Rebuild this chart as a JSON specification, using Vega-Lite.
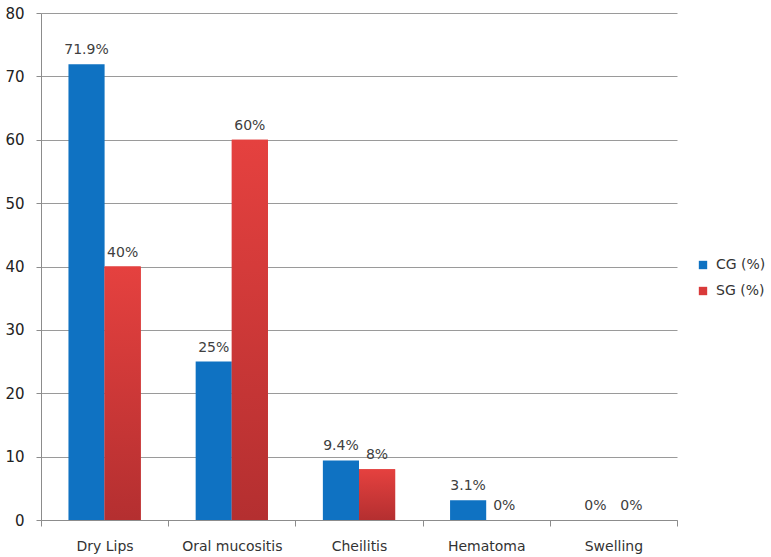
{
  "$schema": "https://vega.github.io/schema/vega-lite/v6.json",
  "width": 636,
  "height": 507,
  "autosize": {"type": "none"},
  "padding": {"left": 41, "top": 13, "right": 94, "bottom": 37},
  "background": "white",
  "config": {"view": {"stroke": null}, "font": "DejaVu Sans"},
  "data": {"values": [
    {"Category": "Dry Lips", "Group": "CG (%)", "Value": 71.9, "label": "71.9%"},
    {"Category": "Dry Lips", "Group": "SG (%)", "Value": 40, "label": "40%"},
    {"Category": "Oral mucositis", "Group": "CG (%)", "Value": 25, "label": "25%"},
    {"Category": "Oral mucositis", "Group": "SG (%)", "Value": 60, "label": "60%"},
    {"Category": "Cheilitis", "Group": "CG (%)", "Value": 9.4, "label": "9.4%"},
    {"Category": "Cheilitis", "Group": "SG (%)", "Value": 8, "label": "8%"},
    {"Category": "Hematoma", "Group": "CG (%)", "Value": 3.1, "label": "3.1%"},
    {"Category": "Hematoma", "Group": "SG (%)", "Value": 0, "label": "0%"},
    {"Category": "Swelling", "Group": "CG (%)", "Value": 0, "label": "0%"},
    {"Category": "Swelling", "Group": "SG (%)", "Value": 0, "label": "0%"}
  ]},
  "encoding": {
    "x": {
      "field": "Category", "type": "nominal", "sort": null,
      "scale": {"paddingInner": 0, "paddingOuter": 0},
      "axis": {
        "title": null, "labelAngle": 0, "labelFontSize": 14, "labelColor": "#333333",
        "labelPadding": 13, "labelBaseline": "top", "tickBand": "extent", "tickSize": 6, "tickColor": "#8c8c8c",
        "domainColor": "#8c8c8c", "grid": false
      }
    },
    "xOffset": {
      "field": "Group", "type": "nominal",
      "scale": {"paddingInner": 0, "paddingOuter": 0.76}
    },
    "y": {
      "field": "Value", "type": "quantitative",
      "scale": {"domain": [0, 80], "nice": false},
      "axis": {
        "title": null, "values": [0, 10, 20, 30, 40, 50, 60, 70, 80],
        "labelFontSize": 15, "labelColor": "#222222", "labelPadding": 12,
        "tickSize": 5, "tickColor": "#8c8c8c", "domainColor": "#8c8c8c",
        "gridColor": "#9a9a9a", "gridWidth": 1
      }
    }
  },
  "layer": [
    {
      "mark": {"type": "bar"},
      "encoding": {
        "color": {
          "field": "Group", "type": "nominal",
          "scale": {"domain": ["CG (%)", "SG (%)"], "range": ["#0F72C2", "#D93A3A"]},
          "legend": {
            "title": null, "orient": "none", "legendX": 655, "legendY": 245,
            "symbolType": "square", "symbolSize": 70, "labelFontSize": 14,
            "labelColor": "#333333", "rowPadding": 12, "labelOffset": 6
          }
        }
      }
    },
    {
      "transform": [{"filter": "datum.Group === 'SG (%)'"}],
      "mark": {
        "type": "bar",
        "color": {
          "gradient": "linear", "x1": 0, "y1": 0, "x2": 0, "y2": 1,
          "stops": [{"offset": 0, "color": "#E5413F"}, {"offset": 1, "color": "#B42F30"}]
        }
      },
      "encoding": {}
    },
    {
      "mark": {"type": "text", "baseline": "alphabetic", "dy": -10, "fontSize": 14, "color": "#404040"},
      "encoding": {"text": {"field": "label"}}
    }
  ]
}
